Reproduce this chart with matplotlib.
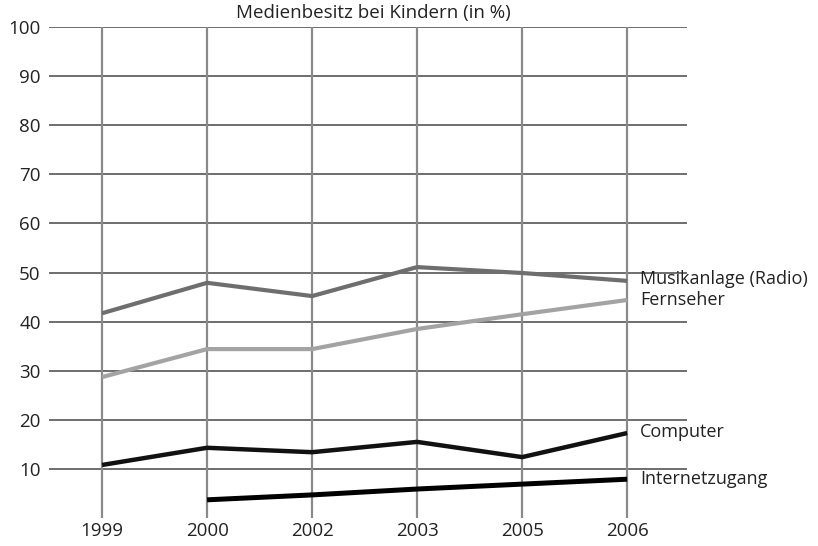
import matplotlib.pyplot as plt
import numpy as np

plt.rcParams['font.family'] = ['Open Sans', 'DejaVu Sans']

years = ["1999", "2000", "2002", "2003", "2005", "2006"]
musik = [41.7, 47.9, 45.2, 51.1, 49.9, 48.3]
fernseher = [28.7, 34.4, 34.4, 38.5, 41.5, 44.4]
computer = [10.8, 14.3, 13.4, 15.5, 12.4, 17.3]
internet = [None, 3.7, 4.7, 5.9, 6.9, 7.9]
yticks = [10, 20, 30, 40, 50, 60, 70, 80, 90, 100]

fig = plt.figure(figsize=(8.18, 5.46), dpi=100)
ax = fig.add_axes([0.0599, 0.0513, 0.78, 0.8992])

x = np.arange(len(years))
xmin, xmax = -0.505, 5.57

# grid
ax.hlines(yticks, xmin, xmax, color="#555555", lw=1.2, zorder=1)
ax.vlines(x, 0, 100, color="#8a8a8a", lw=1.6, zorder=1)

series = [
    (musik, "#6e6e6e", 3.0, "Musikanlage (Radio)"),
    (fernseher, "#a3a3a3", 3.0, "Fernseher"),
    (computer, "#111111", 3.2, "Computer"),
    (internet, "#000000", 3.6, "Internetzugang"),
]
for vals, col, lw, name in series:
    xs = [xi for xi, v in zip(x, vals) if v is not None]
    ys = [v for v in vals if v is not None]
    ax.plot(xs, ys, color=col, lw=lw, zorder=3, solid_capstyle="butt")

label_y = [48.6, 44.4, 17.6, 8.0]
for (vals, col, lw, name), ly in zip(series, label_y):
    ax.text(x[-1] + 0.12, ly, name, fontsize=13, va="center", ha="left",
            color="#222222", clip_on=False)

ax.set_xlim(xmin, xmax)
ax.set_ylim(0, 100)
ax.set_xticks(x)
ax.set_xticklabels(years)
ax.set_yticks(yticks)
ax.tick_params(length=0, labelsize=13.5, colors="#222222")
ax.tick_params(axis="y", pad=6)
ax.tick_params(axis="x", pad=3)
for s in ax.spines.values():
    s.set_visible(False)

fig.text(0.456, 0.977, "Medienbesitz bei Kindern (in %)", ha="center", va="center",
         fontsize=13.5, color="#222222")

fig.savefig("out.png", dpi=100)
